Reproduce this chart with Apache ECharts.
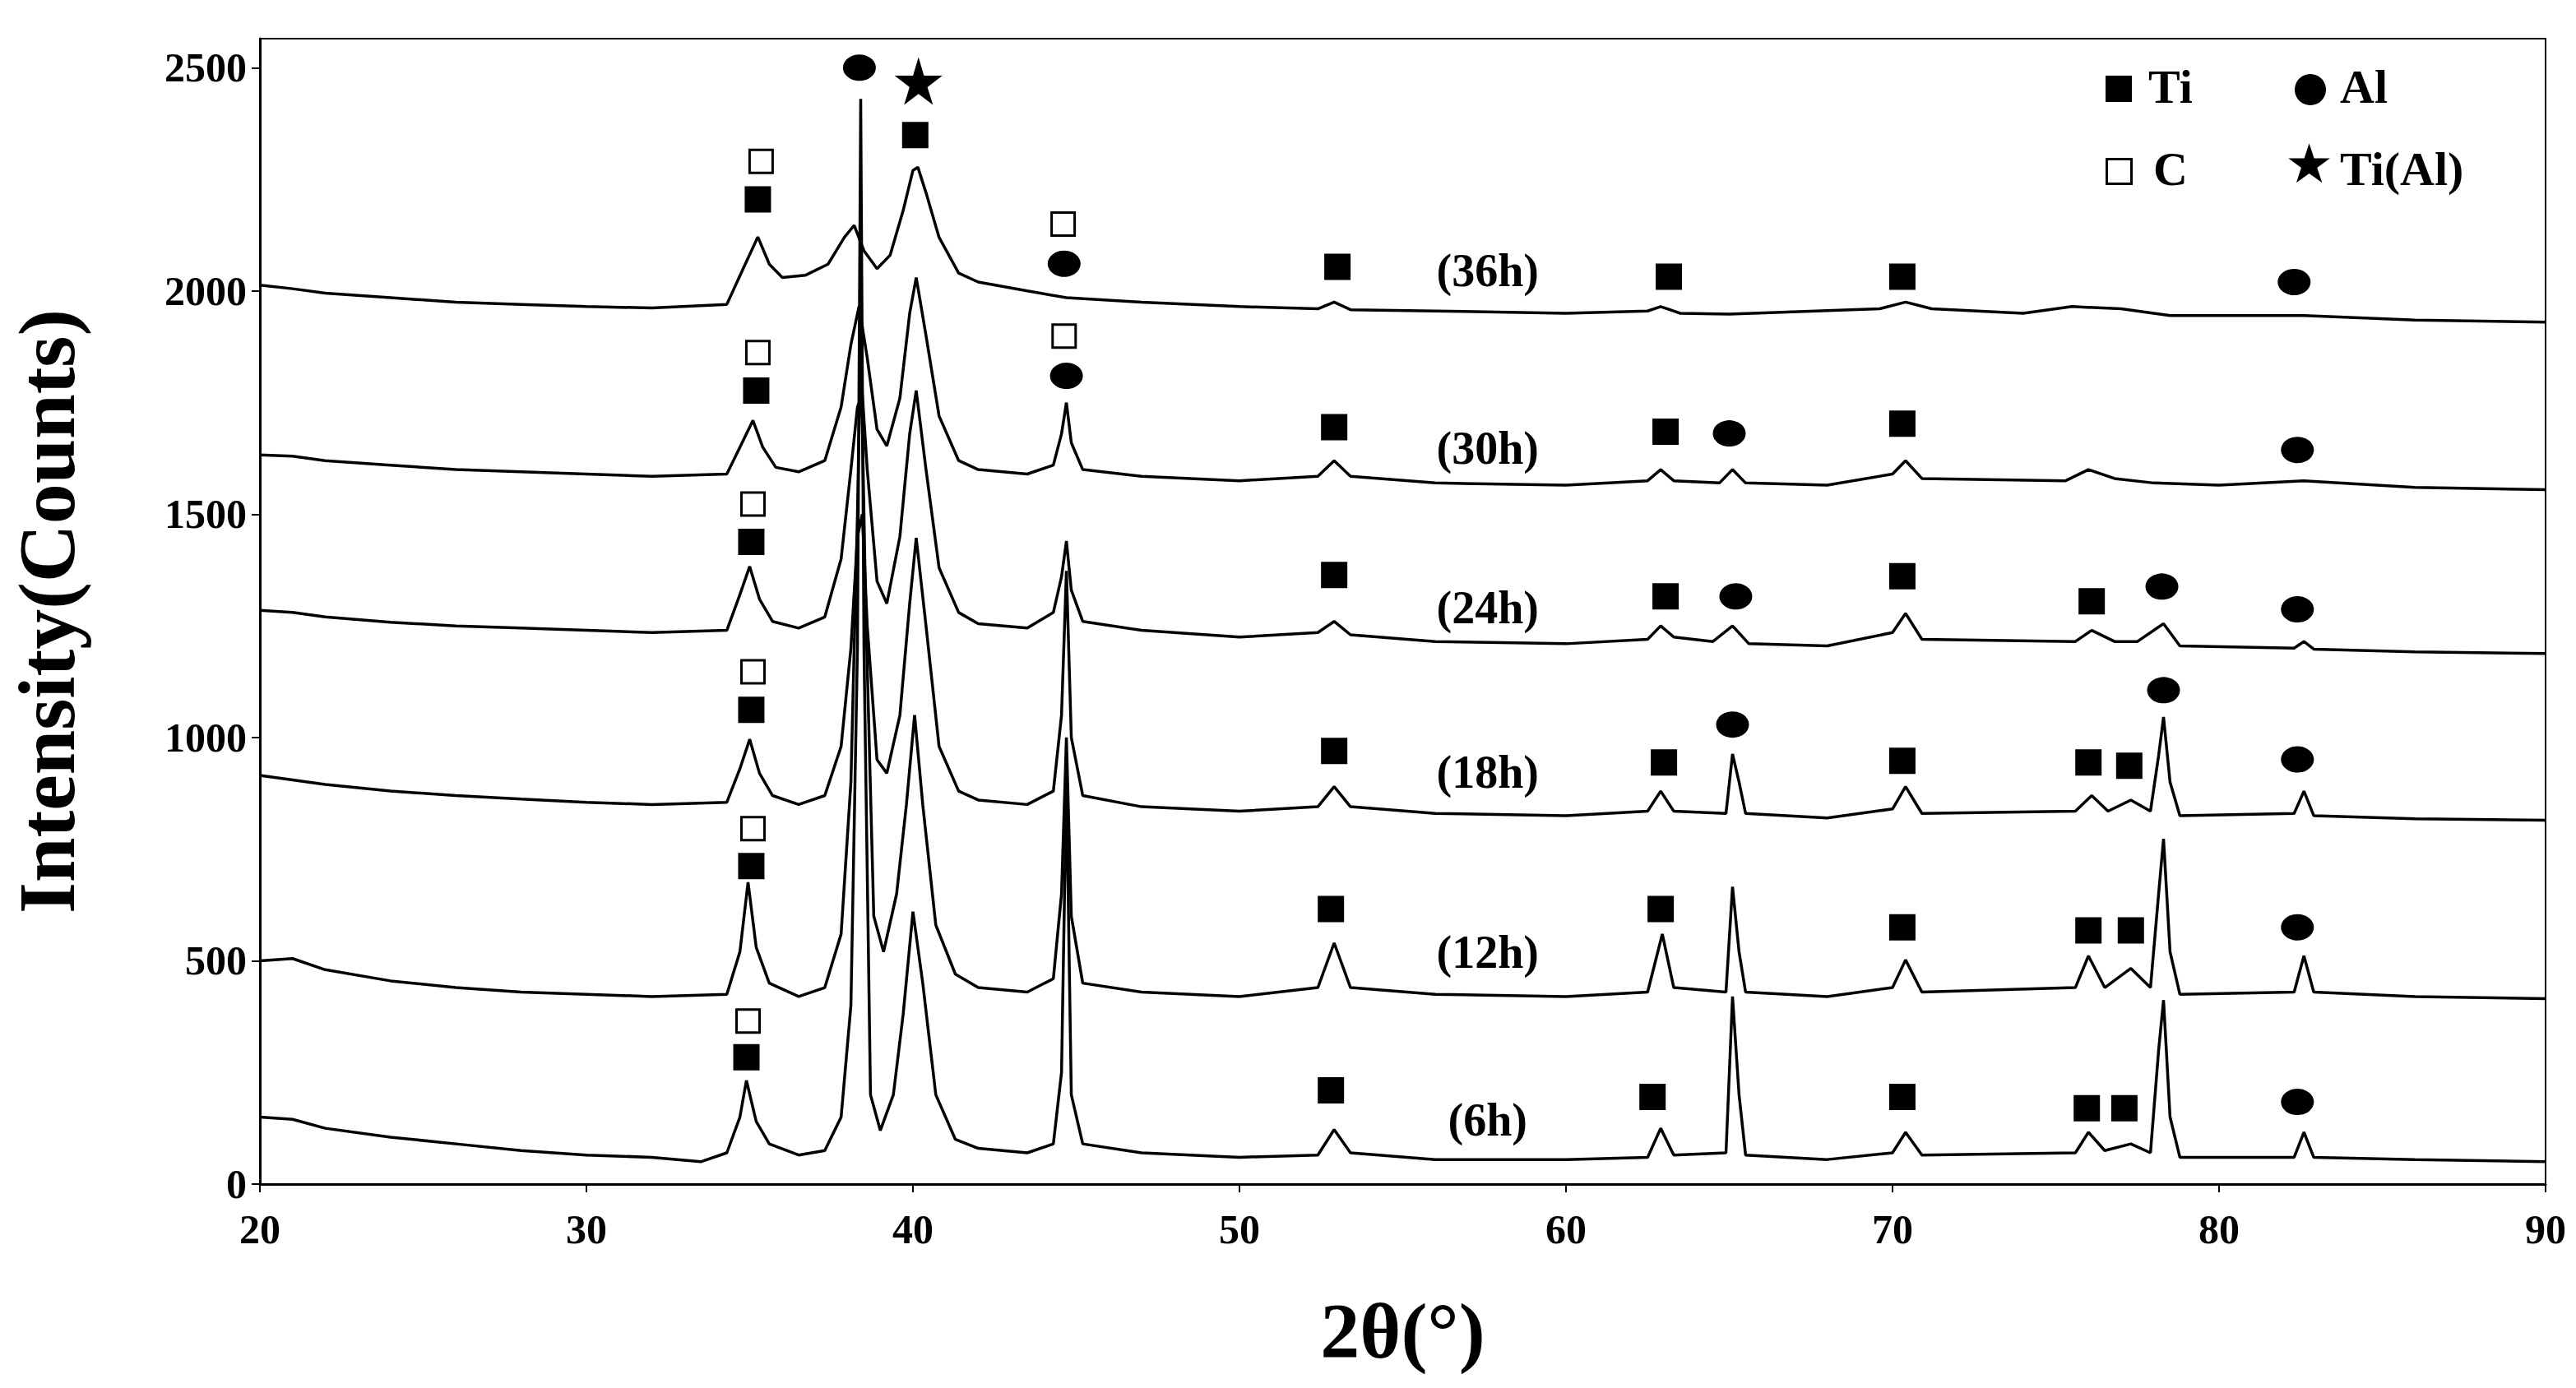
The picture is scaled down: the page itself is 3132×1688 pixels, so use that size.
<!DOCTYPE html>
<html>
<head>
<meta charset="utf-8">
<script src="https://cdn.jsdelivr.net/npm/echarts@6/dist/echarts.min.js"></script>
<style>
  html, body { margin: 0; padding: 0; background: #fff; }
  #chart { width: 3132px; height: 1688px; }
</style>
</head>
<body>
<div id="chart"></div>
<script>
// XRD patterns, [2theta, counts]
var c6h = [[20,150],[21,145],[22,125],[24,105],[26,90],[28,75],[30,65],[32,60],[33.5,50],[34.3,70],[34.7,150],[34.9,232],[35.2,140],[35.6,90],[36.5,65],[37.3,75],[37.8,150],[38.1,400],[38.3,1200],[38.4,2430],[38.5,1200],[38.7,200],[39.0,120],[39.4,200],[39.7,380],[40.0,610],[40.3,450],[40.7,200],[41.3,100],[42,80],[43.5,70],[44.3,90],[44.55,250],[44.7,900],[44.85,200],[45.2,90],[47,70],[50,60],[52.4,65],[52.9,122],[53.4,70],[56,55],[60,55],[62.5,60],[62.9,125],[63.3,65],[64.9,70],[65.1,420],[65.3,200],[65.5,65],[68,55],[70,70],[70.4,116],[70.9,65],[75.6,70],[76.0,116],[76.5,75],[77.3,90],[77.9,70],[78.15,300],[78.3,412],[78.5,150],[78.8,60],[82.3,60],[82.6,116],[82.9,60],[86,55],[90,50]];
var c12h = [[20,500],[21,505],[22,480],[24,455],[26,440],[28,430],[30,425],[32,420],[34.3,425],[34.7,520],[34.95,676],[35.2,530],[35.6,450],[36.5,420],[37.3,440],[37.8,560],[38.1,900],[38.3,1500],[38.4,1900],[38.55,1300],[38.8,600],[39.1,520],[39.5,650],[39.8,850],[40.05,1050],[40.3,850],[40.7,580],[41.3,470],[42,440],[43.5,430],[44.3,460],[44.55,650],[44.7,1000],[44.85,600],[45.2,450],[47,430],[50,420],[52.4,440],[52.9,540],[53.4,440],[56,425],[60,420],[62.5,430],[62.95,560],[63.3,440],[64.9,430],[65.1,666],[65.3,520],[65.5,430],[68,420],[70,440],[70.4,502],[70.9,430],[75.6,440],[76.0,511],[76.5,440],[77.3,483],[77.9,440],[78.15,650],[78.3,773],[78.5,520],[78.8,425],[82.3,430],[82.6,511],[82.9,430],[86,420],[90,415]];
var c18h = [[20,915],[21,905],[22,895],[24,880],[26,870],[28,862],[30,855],[32,850],[34.3,855],[34.7,930],[35.0,996],[35.3,920],[35.7,870],[36.5,850],[37.3,870],[37.8,980],[38.1,1200],[38.3,1450],[38.45,1500],[38.6,1250],[38.9,950],[39.2,920],[39.6,1050],[39.9,1300],[40.1,1447],[40.4,1250],[40.8,980],[41.4,880],[42,860],[43.5,850],[44.3,880],[44.55,1050],[44.7,1373],[44.85,1000],[45.2,870],[47,845],[50,835],[52.4,845],[52.9,890],[53.4,845],[56,830],[60,825],[62.5,835],[62.9,880],[63.3,835],[64.9,830],[65.1,963],[65.3,900],[65.5,830],[68,820],[70,840],[70.4,890],[70.9,830],[75.6,835],[76.1,870],[76.6,835],[77.3,860],[77.9,835],[78.15,960],[78.3,1046],[78.5,900],[78.8,825],[82.3,830],[82.6,880],[82.9,825],[86,818],[90,815]];
var c24h = [[20,1285],[21,1280],[22,1270],[24,1258],[26,1250],[28,1245],[30,1240],[32,1235],[34.3,1240],[34.7,1320],[35.0,1383],[35.3,1310],[35.7,1260],[36.5,1245],[37.3,1270],[37.8,1400],[38.1,1600],[38.3,1740],[38.45,1770],[38.6,1600],[38.9,1350],[39.2,1300],[39.6,1450],[39.9,1680],[40.1,1777],[40.4,1600],[40.8,1380],[41.4,1280],[42,1255],[43.5,1245],[44.3,1280],[44.55,1360],[44.7,1440],[44.85,1330],[45.2,1260],[47,1240],[50,1225],[52.4,1235],[52.9,1260],[53.4,1230],[56,1215],[60,1210],[62.5,1220],[62.9,1250],[63.3,1225],[64.5,1215],[65.1,1250],[65.6,1210],[68,1205],[70,1235],[70.4,1278],[70.9,1220],[75.6,1215],[76.1,1240],[76.8,1215],[77.5,1215],[78.3,1255],[78.8,1205],[82.3,1200],[82.6,1215],[82.9,1198],[86,1192],[90,1188]];
var c30h = [[20,1633],[21,1630],[22,1620],[24,1610],[26,1600],[28,1595],[30,1590],[32,1585],[34.3,1590],[34.7,1650],[35.1,1710],[35.4,1650],[35.8,1605],[36.5,1595],[37.3,1620],[37.8,1740],[38.1,1880],[38.35,1966],[38.6,1850],[38.9,1690],[39.2,1653],[39.6,1760],[39.9,1950],[40.1,2030],[40.4,1900],[40.8,1720],[41.4,1620],[42,1600],[43.5,1590],[44.3,1610],[44.55,1680],[44.7,1750],[44.85,1660],[45.2,1600],[47,1585],[50,1575],[52.4,1585],[52.9,1620],[53.4,1585],[56,1570],[60,1565],[62.5,1575],[62.9,1600],[63.3,1575],[64.7,1570],[65.1,1600],[65.5,1570],[68,1565],[70,1590],[70.4,1620],[70.9,1580],[75.3,1575],[76.0,1600],[76.8,1580],[78,1570],[80,1565],[82.6,1575],[86,1560],[90,1555]];
var c36h = [[20,2013],[21,2005],[22,1995],[24,1985],[26,1975],[28,1970],[30,1965],[32,1962],[34.3,1970],[34.8,2050],[35.25,2121],[35.6,2060],[36,2030],[36.7,2035],[37.4,2060],[37.9,2120],[38.2,2147],[38.5,2090],[38.9,2050],[39.3,2080],[39.7,2180],[40.0,2270],[40.15,2277],[40.4,2220],[40.8,2120],[41.4,2040],[42,2020],[43.5,2000],[44.7,1985],[47,1975],[50,1965],[52.4,1960],[52.9,1975],[53.4,1958],[56,1955],[60,1950],[62.5,1955],[62.9,1965],[63.5,1950],[65,1948],[69.6,1960],[70.4,1975],[71.2,1960],[74,1950],[75.5,1965],[77,1960],[78.5,1945],[82.6,1945],[86,1935],[90,1930]];

var xTicks = [20, 30, 40, 50, 60, 70, 80, 90];
var yTicks = [0, 500, 1000, 1500, 2000, 2500];

// phase markers [2theta, counts]
var tiMarks = [[35.25,2205],[40.07,2349],[53.0,2054],[63.15,2032],[70.3,2032],
  [35.2,1777],[52.9,1695],[63.05,1685],[70.3,1703],
  [35.05,1438],[52.9,1364],[63.05,1316],[70.3,1361],[76.1,1305],
  [35.05,1062],[52.9,970],[63.0,944],[70.3,948],[76.0,944],[77.25,937],
  [35.05,712],[52.8,616],[62.9,616],[70.3,575],[76.0,568],[77.3,568],
  [34.9,284],[52.8,210],[62.65,195],[70.3,195],[75.95,170],[77.1,170]];
var cMarks = [[35.35,2290],[44.6,2150],[35.25,1862],[44.63,1899],[35.1,1523],[35.1,1147],[35.1,796],[34.95,365]];
var alMarks = [[38.36,2500],[44.63,2061],[82.3,2020],
  [44.7,1810],[65.0,1681],[82.4,1644],
  [65.2,1316],[78.25,1338],[82.4,1287],
  [65.1,1029],[78.3,1106],[82.4,951],
  [82.4,575],[82.4,184]];
var starMarks = [[40.17,2470]];

var curveNames = ['(6h)', '(12h)', '(18h)', '(24h)', '(30h)', '(36h)'];
var curveLabelPos = [[57.6,144],[57.6,520],[57.6,922],[57.6,1290],[57.6,1648],[57.6,2046]];

var font = '"Liberation Serif", "DejaVu Serif", serif';
var star = 'path://M50,0 L61,35 L98,35 L68,57 L79,91 L50,70 L21,91 L32,57 L2,35 L39,35 Z';

var chart = echarts.init(document.getElementById('chart'), null, { renderer: 'svg' });

function curve(data) {
  return {
    type: 'line', data: data, symbol: 'none', smooth: false,
    lineStyle: { color: '#000', width: 3.5 }, z: 2
  };
}
function marks(data, symbol, size, fill) {
  return {
    type: 'scatter', data: data, symbol: symbol, symbolSize: size,
    itemStyle: { color: fill, opacity: 1, borderColor: '#000', borderWidth: fill === '#fff' ? 3 : 0 }, z: 5
  };
}

chart.setOption({
  animation: false,
  backgroundColor: '#fff',
  grid: { left: 310, right: 37, top: 47, bottom: 248, show: true, borderColor: '#000', borderWidth: 2 },
  xAxis: {
    type: 'value', min: 20, max: 90, interval: 10,
    axisLine: { lineStyle: { color: '#000', width: 3 } },
    axisTick: { show: true, length: 10, lineStyle: { color: '#000', width: 2 } },
    axisLabel: { color: '#000', fontFamily: font, fontWeight: 'bold', fontSize: 50, margin: 30,
      formatter: function(v) { return xTicks.indexOf(v) >= 0 ? v : ''; } },
    splitLine: { show: false },
    name: '2θ(°)', nameLocation: 'middle', nameGap: 130,
    nameTextStyle: { color: '#000', fontFamily: font, fontWeight: 'bold', fontSize: 96 }
  },
  yAxis: {
    type: 'value', min: 0, max: 2565, interval: 500,
    axisLine: { show: true, lineStyle: { color: '#000', width: 3 } },
    axisTick: { show: true, length: 10, lineStyle: { color: '#000', width: 2 } },
    axisLabel: { color: '#000', fontFamily: font, fontWeight: 'bold', fontSize: 50, margin: 16, showMaxLabel: false,
      formatter: function(v) { return yTicks.indexOf(v) >= 0 ? v : ''; } },
    splitLine: { show: false },
    name: 'Intensity(Counts)', nameLocation: 'middle', nameGap: 210, nameRotate: 90,
    nameTextStyle: { color: '#000', fontFamily: font, fontWeight: 'bold', fontSize: 98 }
  },
  graphic: [
    { type: 'rect', left: 2560, top: 92, shape: { width: 32, height: 32 }, style: { fill: '#000' } },
    { type: 'text', left: 2612, top: 76, style: { text: 'Ti', font: 'bold 58px ' + font, fill: '#000' } },
    { type: 'circle', left: 2790, top: 90, shape: { r: 19 }, style: { fill: '#000' } },
    { type: 'text', left: 2845, top: 76, style: { text: 'Al', font: 'bold 58px ' + font, fill: '#000' } },
    { type: 'rect', left: 2560, top: 192, shape: { width: 30, height: 30 }, style: { fill: '#fff', stroke: '#000', lineWidth: 3 } },
    { type: 'text', left: 2618, top: 176, style: { text: 'C', font: 'bold 58px ' + font, fill: '#000' } },
    { type: 'text', left: 2778, top: 166, style: { text: '★', font: 'bold 66px "DejaVu Sans"', fill: '#000' } },
    { type: 'text', left: 2845, top: 176, style: { text: 'Ti(Al)', font: 'bold 58px ' + font, fill: '#000' } }
  ],
  series: [
    curve(c6h), curve(c12h), curve(c18h), curve(c24h), curve(c30h), curve(c36h),
    marks(tiMarks, 'rect', 32, '#000'),
    marks(cMarks, 'rect', 28, '#fff'),
    marks(alMarks, 'circle', [40, 32], '#000'),
    marks(starMarks, star, 58, '#000'),
    {
      type: 'scatter', symbol: 'circle', symbolSize: 1, z: 6,
      itemStyle: { color: '#fff', opacity: 1 },
      data: curveLabelPos.map(function(p, i) { return { value: p, name: curveNames[i] }; }),
      label: { show: true, position: 'inside', formatter: '{b}', color: '#000', opacity: 1,
        fontFamily: font, fontWeight: 'bold', fontSize: 56 }
    }
  ]
});
window.addEventListener('resize', function() { chart.resize(); });
</script>
</body>
</html>
